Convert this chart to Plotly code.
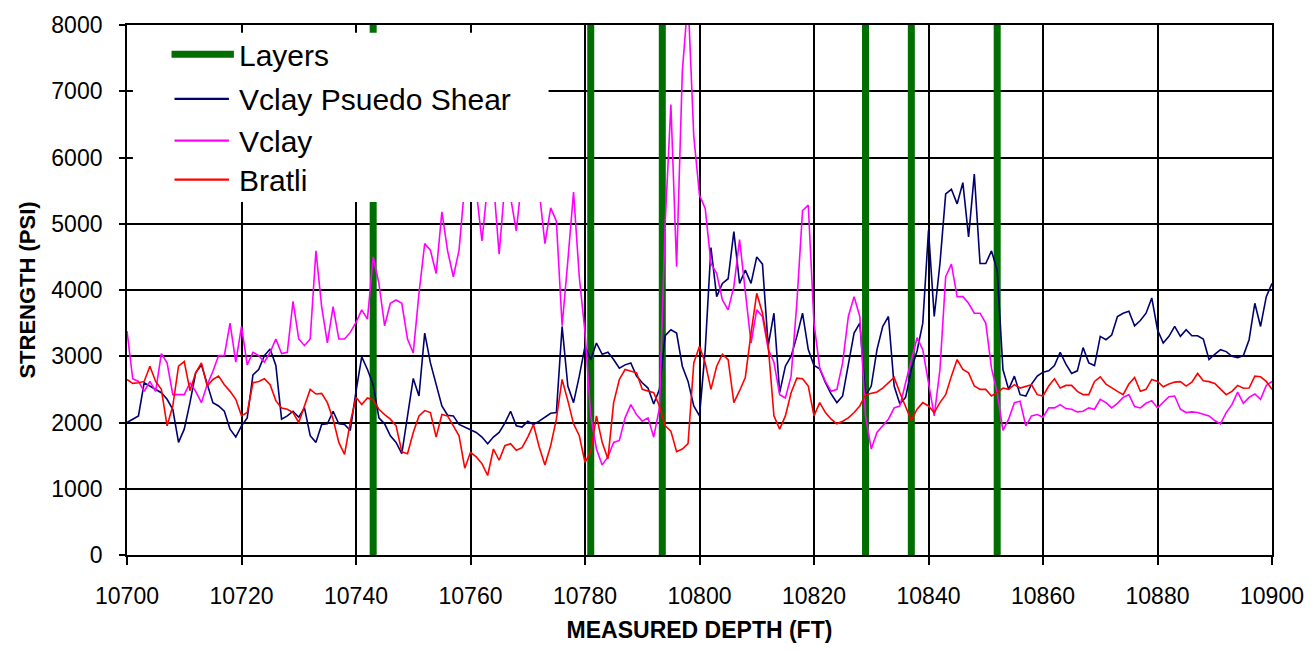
import plotly.graph_objects as go

# ---------------- data ----------------
depth = list(range(10700, 10901))  # measured depth, ft (1 ft sampling)

vclay_pseudo_shear = [
    2000, 2050, 2100, 2600, 2550, 2500, 2450, 2350, 2200, 1700,
    1900, 2300, 2750, 2870, 2600, 2300, 2250, 2170, 1900, 1780,
    1950, 2070, 2720, 2800, 3010, 3110, 2860, 2050, 2100, 2170,
    2080, 2220, 1800, 1700, 1970, 1980, 2170, 1980, 1970, 1880,
    2470, 2990, 2800, 2570, 2070, 1980, 1800, 1700, 1530, 2070,
    2665, 2400, 3350, 2900, 2570, 2250, 2110, 2100, 1970, 1930,
    1900, 1850, 1780, 1680, 1780, 1850, 1990, 2170, 1950, 1930,
    2020, 1970, 2020, 2080, 2140, 2150, 3450, 2550, 2300, 2700,
    3150, 2950, 3200, 3030, 3060, 2950, 2820, 2870, 2900, 2700,
    2600, 2520, 2280, 2500, 3310, 3400, 3350, 2850, 2620, 2250,
    2100, 3100, 4640, 3900, 4100, 4170, 4880, 4100, 4300, 4100,
    4500, 4390, 3160, 3650, 2450, 2850, 3000, 3300, 3650, 3100,
    2860, 2810, 2600, 2430, 2300, 2400, 2900, 3350, 3500, 2400,
    2550, 3100, 3450, 3600, 2550, 2280, 2380, 2800, 3080, 3500,
    4900, 3600, 4400, 5450, 5520, 5300, 5620, 4800, 5750, 4400,
    4400, 4590, 4300, 2800, 2500, 2700, 2420, 2400, 2580, 2700,
    2760, 2780, 2860, 3060, 2880, 2740, 2780, 3130, 2900, 2860,
    3300, 3250, 3320, 3600, 3650, 3680, 3460, 3540, 3650, 3880,
    3400, 3200, 3300, 3450, 3300, 3400, 3310, 3310, 3260, 2950,
    3030, 3100, 3070, 3000, 2980, 3010, 3250, 3800, 3450, 3900,
    4100,
]

vclay = [
    3380, 2660, 2620, 2470, 2620, 2470, 3040, 2900, 2420, 2420,
    2420, 2600, 2470, 2300, 2570, 2770, 3010, 3010, 3500, 2910,
    3450, 2870, 3060, 3010, 2910, 3060, 3260, 3040, 3060, 3830,
    3260, 3160, 3260, 4590, 3750, 3200, 3750, 3260, 3260, 3360,
    3510, 3700, 3560, 4500, 4100, 3460, 3800, 3850, 3800, 3260,
    3050, 3950, 4700, 4600, 4250, 5180, 4590, 4200, 4600, 5600,
    5700, 5500, 4740, 5600, 5650, 4540, 5600, 5400, 4890, 5700,
    5800, 5600, 5500, 4700, 5240, 5040, 3460, 4440, 5480, 4200,
    3360, 2100, 1600, 1360, 1480, 1700, 1730, 2070, 2270, 2120,
    2020, 2070, 1780, 2220, 5000, 6800, 4350, 7300, 8400, 6320,
    5430, 5230, 4400, 4250, 3850, 3700, 4050, 4760, 4000, 3200,
    3700, 3600, 3110, 2910, 2420, 2370, 2700, 3800, 5200, 5280,
    3500, 2820, 2620, 2470, 2500, 2900, 3600, 3900, 3600, 2100,
    1600, 1850, 1950, 2050, 2220, 2250, 2600, 2960, 3280, 3100,
    2600, 2100, 2800, 4200, 4390, 3900, 3900, 3800, 3650, 3650,
    3500, 2820, 2450, 1880, 2050, 2300, 2320, 1950, 2100, 2120,
    2080, 2220, 2220, 2270, 2210, 2200, 2160, 2170, 2220, 2200,
    2350, 2300, 2220, 2290, 2380, 2420, 2240, 2220, 2290, 2330,
    2220, 2300, 2390, 2400, 2200, 2150, 2160, 2150, 2120, 2100,
    2030, 1980, 2150, 2270, 2460, 2290, 2380, 2430, 2350, 2560,
    2620,
]

bratli = [
    2650, 2590, 2600, 2620, 2850, 2620, 2500, 1950, 2250, 2850,
    2920, 2480, 2750, 2900, 2550, 2650, 2700, 2570, 2470, 2350,
    2100, 2150, 2600, 2620, 2660, 2570, 2330, 2220, 2200, 2150,
    2000, 2250, 2500, 2430, 2440, 2300, 2050, 1700, 1520, 2000,
    2380, 2270, 2370, 2340, 2200, 2120, 2050, 1950, 1560, 1530,
    1850, 2100, 2180, 2150, 1780, 2120, 2100, 1950, 1800, 1310,
    1550, 1480, 1380, 1200, 1600, 1430, 1650, 1680, 1580, 1620,
    1780, 1970, 1630, 1360, 1650, 2050, 2650, 2330, 1980, 1800,
    1400, 1550, 2100, 1700, 1450, 2300, 2650, 2800, 2780, 2750,
    2500, 2470, 2450, 2250, 1950, 1870, 1560, 1600, 1680, 2900,
    3150, 2900, 2500, 2850, 3030, 2950, 2300, 2480, 2680, 3350,
    3950, 3650, 3160, 2100, 1900, 2100, 2450, 2670, 2660, 2550,
    2100, 2300, 2150, 2050, 1980, 2020, 2070, 2150, 2250, 2420,
    2440, 2460, 2520, 2600, 2680, 2450, 2250, 2030, 2200, 2300,
    2250, 2150, 2300, 2420, 2700, 2950, 2800, 2750, 2550, 2500,
    2500, 2400, 2450, 2520, 2500, 2570, 2520, 2540, 2570, 2420,
    2400, 2550, 2660, 2520, 2560, 2560, 2470, 2420, 2420, 2620,
    2690, 2580, 2520, 2470, 2420, 2580, 2680, 2470, 2500, 2650,
    2620, 2540, 2580, 2610, 2617, 2550, 2610, 2740, 2630, 2617,
    2590, 2500, 2420, 2470, 2560, 2518, 2520, 2700, 2690, 2620,
    2500,
]

layer_depths = [10743, 10781, 10793.5, 10829, 10837, 10852]

series_names = ["Layers", "Vclay Psuedo Shear", "Vclay", "Bratli"]
series_colors = ["#006E00", "#000070", "#FF00FF", "#FF0000"]
series_widths = [7, 1.6, 1.6, 1.6]

y_min, y_max = 0, 8000
x_min, x_max = 10700, 10900

assert len(depth) == len(vclay_pseudo_shear) == len(vclay) == len(bratli)

# ---------------- figure ----------------
FONT = "Liberation Sans, Arial, sans-serif"

layer_x, layer_y = [], []
for d in layer_depths:
    layer_x += [d, d, None]
    layer_y += [y_min, y_max, None]

fig = go.Figure()
fig.add_trace(go.Scatter(x=layer_x, y=layer_y, mode="lines", name=series_names[0],
                         line=dict(color=series_colors[0], width=series_widths[0])))
for name, yv, col, w in zip(series_names[1:], [vclay_pseudo_shear, vclay, bratli],
                            series_colors[1:], series_widths[1:]):
    fig.add_trace(go.Scatter(x=depth, y=yv, mode="lines", name=name,
                             line=dict(color=col, width=w)))

axis_common = dict(
    showgrid=True, gridcolor="black", gridwidth=1.8,
    showline=True, linecolor="black", linewidth=1.8, mirror=True,
    ticks="outside", tickcolor="black", tickwidth=1.5,
    zeroline=False,
    tickfont=dict(family=FONT, size=23, color="black"),
)

fig.update_xaxes(range=[x_min, x_max], dtick=20, tick0=10700, ticklen=8,
                 tickformat="d", ticklabelstandoff=11,
                 title=dict(text="<b>MEASURED DEPTH (FT)</b>", standoff=14,
                            font=dict(family=FONT, size=23, color="black")),
                 **axis_common)
fig.update_yaxes(range=[y_min, y_max], dtick=1000, ticklen=6,
                 ticklabelstandoff=12,
                 title=dict(text="<b>STRENGTH (PSI)</b>", standoff=10,
                            font=dict(family=FONT, size=22, color="black")),
                 **axis_common)

# ---- legend drawn in the plot's top-left corner (white box over the data) ----
PLOT_L, PLOT_T, PLOT_R, PLOT_B = 127, 17, 1284, 562
PLOT_W, PLOT_H = PLOT_R - PLOT_L, PLOT_B - PLOT_T


def px(xp):
    return (xp - PLOT_L) / PLOT_W


def py(yp):
    return (PLOT_B - yp) / PLOT_H


shapes = [dict(type="rect", xref="paper", yref="paper", layer="above",
               x0=px(133), x1=px(553), y0=py(199), y1=py(25),
               fillcolor="white", line=dict(width=0))]
annotations = []
legend_rows = [47, 93, 136, 176]
sample_x = [(172, 235), (175, 230), (175, 230), (175, 230)]
for name, col, w, row, (sx0, sx1) in zip(series_names, series_colors, series_widths,
                                        legend_rows, sample_x):
    shapes.append(dict(type="line", xref="paper", yref="paper", layer="above",
                       x0=px(sx0), x1=px(sx1), y0=py(row), y1=py(row),
                       line=dict(color=col, width=w if w > 2 else 2.2)))
    annotations.append(dict(xref="paper", yref="paper", x=px(238), y=py(row + 1),
                            xanchor="left", yanchor="middle", showarrow=False,
                            text=name, font=dict(family=FONT, size=30, color="black")))

fig.update_layout(
    width=1316, height=651,
    margin=dict(l=PLOT_L, r=1316 - PLOT_R, t=PLOT_T, b=651 - PLOT_B, pad=0),
    paper_bgcolor="white", plot_bgcolor="white",
    showlegend=False,
    shapes=shapes,
    annotations=annotations,
)

fig.write_html("out.html",
               config={"displayModeBar": False},
               post_script="document.body.style.margin='0';document.body.style.overflow='hidden';")
